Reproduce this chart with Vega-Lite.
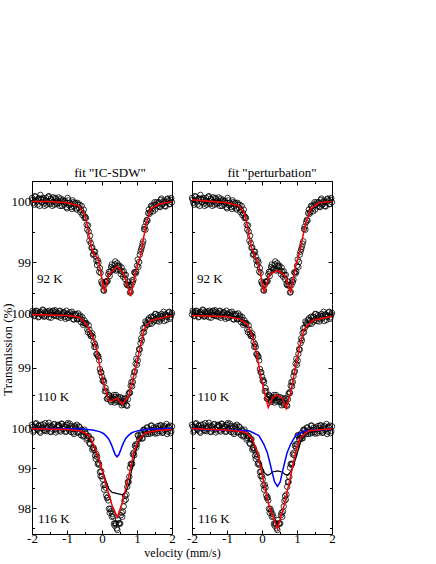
{
"$schema":"https://vega.github.io/schema/vega-lite/v6.json",
"padding":{"top":166,"left":0,"right":5,"bottom":2},
"config":{"view":{"stroke":null},"font":"Liberation Serif",
 "axis":{"labelFont":"Liberation Serif","labelFontSize":13,"labelColor":"black","titleFont":"Liberation Serif","titleFontSize":13,"titleFontWeight":"normal","titleColor":"black","domainColor":"black","domainWidth":1,"tickColor":"black","tickWidth":1,"grid":false,"labelFlush":false,"labelOverlap":false},
 "title":{"font":"Liberation Serif","fontSize":13,"fontWeight":"normal","color":"black"}},
"datasets":{
"s92":[{"v":-2,"t":100.05},{"v":-1.96,"t":99.97},{"v":-1.92,"t":100.08},{"v":-1.88,"t":100.01},{"v":-1.84,"t":99.94},{"v":-1.8,"t":100.04},{"v":-1.76,"t":100.1},{"v":-1.72,"t":99.98},{"v":-1.68,"t":100.02},{"v":-1.64,"t":99.92},{"v":-1.6,"t":100.05},{"v":-1.56,"t":99.99},{"v":-1.52,"t":100.08},{"v":-1.48,"t":99.95},{"v":-1.44,"t":100.01},{"v":-1.4,"t":100.06},{"v":-1.36,"t":99.94},{"v":-1.32,"t":100.03},{"v":-1.28,"t":99.97},{"v":-1.24,"t":100.06},{"v":-1.2,"t":99.92},{"v":-1.16,"t":100},{"v":-1.12,"t":100.02},{"v":-1.08,"t":99.94},{"v":-1.04,"t":99.97},{"v":-1,"t":99.88},{"v":-0.96,"t":100.01},{"v":-0.92,"t":99.97},{"v":-0.88,"t":99.9},{"v":-0.84,"t":100.01},{"v":-0.8,"t":99.91},{"v":-0.76,"t":99.97},{"v":-0.72,"t":99.86},{"v":-0.68,"t":99.94},{"v":-0.64,"t":99.94},{"v":-0.6,"t":99.85},{"v":-0.56,"t":99.77},{"v":-0.52,"t":99.86},{"v":-0.48,"t":99.74},{"v":-0.44,"t":99.61},{"v":-0.4,"t":99.6},{"v":-0.36,"t":99.35},{"v":-0.32,"t":99.31},{"v":-0.28,"t":99.24},{"v":-0.24,"t":99.13},{"v":-0.2,"t":99.17},{"v":-0.16,"t":99.02},{"v":-0.12,"t":99.03},{"v":-0.08,"t":98.84},{"v":-0.04,"t":98.82},{"v":0,"t":98.65},{"v":0.04,"t":98.54},{"v":0.08,"t":98.63},{"v":0.12,"t":98.67},{"v":0.16,"t":98.69},{"v":0.2,"t":98.84},{"v":0.24,"t":98.84},{"v":0.28,"t":98.96},{"v":0.32,"t":98.87},{"v":0.36,"t":98.96},{"v":0.4,"t":98.86},{"v":0.44,"t":98.98},{"v":0.48,"t":98.92},{"v":0.52,"t":98.86},{"v":0.56,"t":98.91},{"v":0.6,"t":98.76},{"v":0.64,"t":98.79},{"v":0.68,"t":98.79},{"v":0.72,"t":98.62},{"v":0.76,"t":98.62},{"v":0.8,"t":98.5},{"v":0.84,"t":98.62},{"v":0.88,"t":98.67},{"v":0.92,"t":98.83},{"v":0.96,"t":98.81},{"v":1,"t":98.94},{"v":1.04,"t":98.92},{"v":1.08,"t":99.12},{"v":1.12,"t":99.21},{"v":1.16,"t":99.3},{"v":1.2,"t":99.54},{"v":1.24,"t":99.53},{"v":1.28,"t":99.69},{"v":1.32,"t":99.8},{"v":1.36,"t":99.79},{"v":1.4,"t":99.92},{"v":1.44,"t":99.88},{"v":1.48,"t":99.94},{"v":1.52,"t":99.86},{"v":1.56,"t":99.98},{"v":1.6,"t":99.96},{"v":1.64,"t":99.91},{"v":1.68,"t":100.02},{"v":1.72,"t":99.94},{"v":1.76,"t":100},{"v":1.8,"t":99.92},{"v":1.84,"t":99.98},{"v":1.88,"t":100.04},{"v":1.92,"t":99.95},{"v":1.96,"t":100.02},{"v":2,"t":99.98},
{"v":-1.98,"t":100.02},{"v":-1.94,"t":99.94},{"v":-1.9,"t":100.07},{"v":-1.86,"t":99.99},{"v":-1.82,"t":100.04},{"v":-1.78,"t":99.92},{"v":-1.74,"t":100.03},{"v":-1.7,"t":100.05},{"v":-1.66,"t":99.96},{"v":-1.62,"t":100},{"v":-1.58,"t":99.94},{"v":-1.54,"t":100.07},{"v":-1.5,"t":99.97},{"v":-1.46,"t":100.04},{"v":-1.42,"t":99.92},{"v":-1.38,"t":99.99},{"v":-1.34,"t":100.05},{"v":-1.3,"t":99.95},{"v":-1.26,"t":100.01},{"v":-1.22,"t":99.97},{"v":-1.18,"t":100.04},{"v":-1.14,"t":99.92},{"v":-1.1,"t":99.99},{"v":-1.06,"t":100},{"v":-1.02,"t":99.9},{"v":-0.98,"t":100.05},{"v":-0.94,"t":99.93},{"v":-0.9,"t":99.95},{"v":-0.86,"t":99.87},{"v":-0.82,"t":99.98},{"v":-0.78,"t":99.96},{"v":-0.74,"t":99.88},{"v":-0.7,"t":99.97},{"v":-0.66,"t":99.89},{"v":-0.62,"t":99.82},{"v":-0.58,"t":99.92},{"v":-0.54,"t":99.8},{"v":-0.5,"t":99.72},{"v":-0.46,"t":99.72},{"v":-0.42,"t":99.53},{"v":-0.38,"t":99.5},{"v":-0.34,"t":99.43},{"v":-0.3,"t":99.23},{"v":-0.26,"t":99.12},{"v":-0.22,"t":99.17},{"v":-0.18,"t":99.09},{"v":-0.14,"t":98.95},{"v":-0.1,"t":98.99},{"v":-0.06,"t":98.9},{"v":-0.02,"t":98.68},{"v":0.02,"t":98.63},{"v":0.06,"t":98.53},{"v":0.1,"t":98.68},{"v":0.14,"t":98.68},{"v":0.18,"t":98.8},{"v":0.22,"t":98.77},{"v":0.26,"t":98.92},{"v":0.3,"t":98.9},{"v":0.34,"t":98.89},{"v":0.38,"t":99.01},{"v":0.42,"t":98.88},{"v":0.46,"t":98.94},{"v":0.5,"t":98.94},{"v":0.54,"t":98.8},{"v":0.58,"t":98.84},{"v":0.62,"t":98.85},{"v":0.66,"t":98.72},{"v":0.7,"t":98.64},{"v":0.74,"t":98.68},{"v":0.78,"t":98.61},{"v":0.82,"t":98.51},{"v":0.86,"t":98.7},{"v":0.9,"t":98.71},{"v":0.94,"t":98.83},{"v":0.98,"t":98.84},{"v":1.02,"t":99.04},{"v":1.06,"t":99},{"v":1.1,"t":99.17},{"v":1.14,"t":99.25},{"v":1.18,"t":99.34},{"v":1.22,"t":99.58},{"v":1.26,"t":99.65},{"v":1.3,"t":99.68},{"v":1.34,"t":99.86},{"v":1.38,"t":99.82},{"v":1.42,"t":99.91},{"v":1.46,"t":99.83},{"v":1.5,"t":99.98},{"v":1.54,"t":99.94},{"v":1.58,"t":99.91},{"v":1.62,"t":99.98},{"v":1.66,"t":99.9},{"v":1.7,"t":100.04},{"v":1.74,"t":99.95},{"v":1.78,"t":99.99},{"v":1.82,"t":99.91},{"v":1.86,"t":100.03},{"v":1.9,"t":100.01},{"v":1.94,"t":99.95},{"v":1.98,"t":100.05}],
"s110":[{"v":-2,"t":99.99},{"v":-1.96,"t":100.03},{"v":-1.92,"t":99.97},{"v":-1.88,"t":100.06},{"v":-1.84,"t":100.01},{"v":-1.8,"t":99.95},{"v":-1.76,"t":100.04},{"v":-1.72,"t":99.98},{"v":-1.68,"t":100.07},{"v":-1.64,"t":99.96},{"v":-1.6,"t":100.02},{"v":-1.56,"t":100.05},{"v":-1.52,"t":99.94},{"v":-1.48,"t":100.03},{"v":-1.44,"t":99.99},{"v":-1.4,"t":100.06},{"v":-1.36,"t":99.97},{"v":-1.32,"t":100.04},{"v":-1.28,"t":100.01},{"v":-1.24,"t":99.95},{"v":-1.2,"t":100.06},{"v":-1.16,"t":99.97},{"v":-1.12,"t":100.02},{"v":-1.08,"t":100.03},{"v":-1.04,"t":99.91},{"v":-1,"t":100},{"v":-0.96,"t":99.93},{"v":-0.92,"t":100.03},{"v":-0.88,"t":99.97},{"v":-0.84,"t":100},{"v":-0.8,"t":99.9},{"v":-0.76,"t":99.97},{"v":-0.72,"t":99.91},{"v":-0.68,"t":100.01},{"v":-0.64,"t":99.95},{"v":-0.6,"t":99.85},{"v":-0.56,"t":99.94},{"v":-0.52,"t":99.83},{"v":-0.48,"t":99.83},{"v":-0.44,"t":99.83},{"v":-0.4,"t":99.66},{"v":-0.36,"t":99.71},{"v":-0.32,"t":99.59},{"v":-0.28,"t":99.64},{"v":-0.24,"t":99.48},{"v":-0.2,"t":99.44},{"v":-0.16,"t":99.26},{"v":-0.12,"t":99.22},{"v":-0.08,"t":99.14},{"v":-0.04,"t":98.92},{"v":0,"t":98.84},{"v":0.04,"t":98.78},{"v":0.08,"t":98.57},{"v":0.12,"t":98.57},{"v":0.16,"t":98.43},{"v":0.2,"t":98.5},{"v":0.24,"t":98.4},{"v":0.28,"t":98.46},{"v":0.32,"t":98.43},{"v":0.36,"t":98.36},{"v":0.4,"t":98.5},{"v":0.44,"t":98.4},{"v":0.48,"t":98.43},{"v":0.52,"t":98.46},{"v":0.56,"t":98.31},{"v":0.6,"t":98.35},{"v":0.64,"t":98.43},{"v":0.68,"t":98.44},{"v":0.72,"t":98.3},{"v":0.76,"t":98.52},{"v":0.8,"t":98.54},{"v":0.84,"t":98.74},{"v":0.88,"t":98.74},{"v":0.92,"t":98.92},{"v":0.96,"t":99.08},{"v":1,"t":99.06},{"v":1.04,"t":99.26},{"v":1.08,"t":99.34},{"v":1.12,"t":99.55},{"v":1.16,"t":99.65},{"v":1.2,"t":99.66},{"v":1.24,"t":99.86},{"v":1.28,"t":99.81},{"v":1.32,"t":99.89},{"v":1.36,"t":99.82},{"v":1.4,"t":99.95},{"v":1.44,"t":99.92},{"v":1.48,"t":99.86},{"v":1.52,"t":100},{"v":1.56,"t":99.92},{"v":1.6,"t":99.98},{"v":1.64,"t":99.86},{"v":1.68,"t":99.96},{"v":1.72,"t":99.92},{"v":1.76,"t":100.04},{"v":1.8,"t":99.99},{"v":1.84,"t":99.89},{"v":1.88,"t":99.97},{"v":1.92,"t":100.04},{"v":1.96,"t":99.94},{"v":2,"t":100.02},
{"v":-1.98,"t":100.06},{"v":-1.94,"t":99.96},{"v":-1.9,"t":100.03},{"v":-1.86,"t":100.05},{"v":-1.82,"t":99.94},{"v":-1.78,"t":100.02},{"v":-1.74,"t":99.99},{"v":-1.7,"t":100.08},{"v":-1.66,"t":99.95},{"v":-1.62,"t":100.04},{"v":-1.58,"t":99.97},{"v":-1.54,"t":100.01},{"v":-1.5,"t":100.06},{"v":-1.46,"t":99.93},{"v":-1.42,"t":100.03},{"v":-1.38,"t":99.98},{"v":-1.34,"t":100.07},{"v":-1.3,"t":99.96},{"v":-1.26,"t":100.02},{"v":-1.22,"t":100.05},{"v":-1.18,"t":99.93},{"v":-1.14,"t":99.99},{"v":-1.1,"t":100.03},{"v":-1.06,"t":99.95},{"v":-1.02,"t":100.06},{"v":-0.98,"t":99.93},{"v":-0.94,"t":99.99},{"v":-0.9,"t":99.96},{"v":-0.86,"t":100.04},{"v":-0.82,"t":99.9},{"v":-0.78,"t":99.99},{"v":-0.74,"t":100},{"v":-0.7,"t":99.9},{"v":-0.66,"t":99.91},{"v":-0.62,"t":99.97},{"v":-0.58,"t":99.9},{"v":-0.54,"t":99.8},{"v":-0.5,"t":99.88},{"v":-0.46,"t":99.82},{"v":-0.42,"t":99.71},{"v":-0.38,"t":99.79},{"v":-0.34,"t":99.63},{"v":-0.3,"t":99.6},{"v":-0.26,"t":99.58},{"v":-0.22,"t":99.39},{"v":-0.18,"t":99.39},{"v":-0.14,"t":99.25},{"v":-0.1,"t":99.21},{"v":-0.06,"t":98.98},{"v":-0.02,"t":98.92},{"v":0.02,"t":98.76},{"v":0.06,"t":98.74},{"v":0.1,"t":98.63},{"v":0.14,"t":98.43},{"v":0.18,"t":98.46},{"v":0.22,"t":98.48},{"v":0.26,"t":98.37},{"v":0.3,"t":98.4},{"v":0.34,"t":98.5},{"v":0.38,"t":98.46},{"v":0.42,"t":98.38},{"v":0.46,"t":98.46},{"v":0.5,"t":98.37},{"v":0.54,"t":98.37},{"v":0.58,"t":98.44},{"v":0.62,"t":98.32},{"v":0.66,"t":98.39},{"v":0.7,"t":98.31},{"v":0.74,"t":98.42},{"v":0.78,"t":98.55},{"v":0.82,"t":98.67},{"v":0.86,"t":98.66},{"v":0.9,"t":98.85},{"v":0.94,"t":98.94},{"v":0.98,"t":99.17},{"v":1.02,"t":99.14},{"v":1.06,"t":99.35},{"v":1.1,"t":99.46},{"v":1.14,"t":99.51},{"v":1.18,"t":99.74},{"v":1.22,"t":99.74},{"v":1.26,"t":99.83},{"v":1.3,"t":99.8},{"v":1.34,"t":99.92},{"v":1.38,"t":99.88},{"v":1.42,"t":99.82},{"v":1.46,"t":99.95},{"v":1.5,"t":99.89},{"v":1.54,"t":100},{"v":1.58,"t":99.87},{"v":1.62,"t":99.94},{"v":1.66,"t":99.9},{"v":1.7,"t":100},{"v":1.74,"t":99.97},{"v":1.78,"t":99.87},{"v":1.82,"t":99.99},{"v":1.86,"t":99.95},{"v":1.9,"t":100.03},{"v":1.94,"t":99.91},{"v":1.98,"t":99.99}],
"s116":[{"v":-2,"t":100.08},{"v":-1.96,"t":99.9},{"v":-1.92,"t":100.03},{"v":-1.88,"t":100.12},{"v":-1.84,"t":99.95},{"v":-1.8,"t":100.06},{"v":-1.76,"t":99.88},{"v":-1.72,"t":100.01},{"v":-1.68,"t":100.09},{"v":-1.64,"t":99.93},{"v":-1.6,"t":100.04},{"v":-1.56,"t":99.98},{"v":-1.52,"t":100.13},{"v":-1.48,"t":99.91},{"v":-1.44,"t":100.05},{"v":-1.4,"t":99.96},{"v":-1.36,"t":100.1},{"v":-1.32,"t":99.89},{"v":-1.28,"t":100.02},{"v":-1.24,"t":100.07},{"v":-1.2,"t":99.94},{"v":-1.16,"t":100.11},{"v":-1.12,"t":99.97},{"v":-1.08,"t":100.05},{"v":-1.04,"t":99.9},{"v":-1,"t":100.08},{"v":-0.96,"t":99.98},{"v":-0.92,"t":100.11},{"v":-0.88,"t":99.9},{"v":-0.84,"t":100.02},{"v":-0.8,"t":99.85},{"v":-0.76,"t":100.02},{"v":-0.72,"t":100.08},{"v":-0.68,"t":99.89},{"v":-0.64,"t":100.02},{"v":-0.6,"t":99.82},{"v":-0.56,"t":99.93},{"v":-0.52,"t":99.81},{"v":-0.48,"t":99.9},{"v":-0.44,"t":99.71},{"v":-0.4,"t":99.79},{"v":-0.36,"t":99.63},{"v":-0.32,"t":99.71},{"v":-0.28,"t":99.46},{"v":-0.24,"t":99.51},{"v":-0.2,"t":99.31},{"v":-0.16,"t":99.35},{"v":-0.12,"t":99.1},{"v":-0.08,"t":99.08},{"v":-0.04,"t":98.8},{"v":0,"t":98.79},{"v":0.04,"t":98.57},{"v":0.08,"t":98.58},{"v":0.12,"t":98.32},{"v":0.16,"t":98.27},{"v":0.2,"t":97.98},{"v":0.24,"t":97.98},{"v":0.28,"t":97.78},{"v":0.32,"t":97.79},{"v":0.36,"t":97.56},{"v":0.4,"t":97.61},{"v":0.44,"t":97.45},{"v":0.48,"t":97.62},{"v":0.52,"t":97.61},{"v":0.56,"t":97.88},{"v":0.6,"t":97.91},{"v":0.64,"t":98.18},{"v":0.68,"t":98.21},{"v":0.72,"t":98.53},{"v":0.76,"t":98.65},{"v":0.8,"t":99.01},{"v":0.84,"t":99.08},{"v":0.88,"t":99.34},{"v":0.92,"t":99.32},{"v":0.96,"t":99.59},{"v":1,"t":99.59},{"v":1.04,"t":99.81},{"v":1.08,"t":99.75},{"v":1.12,"t":99.87},{"v":1.16,"t":99.74},{"v":1.2,"t":99.96},{"v":1.24,"t":99.89},{"v":1.28,"t":100.01},{"v":1.32,"t":99.85},{"v":1.36,"t":99.96},{"v":1.4,"t":100.06},{"v":1.44,"t":99.89},{"v":1.48,"t":100.01},{"v":1.52,"t":99.86},{"v":1.56,"t":99.97},{"v":1.6,"t":100.05},{"v":1.64,"t":99.92},{"v":1.68,"t":100.07},{"v":1.72,"t":99.88},{"v":1.76,"t":100.02},{"v":1.8,"t":99.95},{"v":1.84,"t":100.1},{"v":1.88,"t":99.91},{"v":1.92,"t":100.01},{"v":1.96,"t":99.87},{"v":2,"t":100.04},
{"v":-1.98,"t":100.03},{"v":-1.94,"t":99.94},{"v":-1.9,"t":100.1},{"v":-1.86,"t":99.98},{"v":-1.82,"t":100.05},{"v":-1.78,"t":99.91},{"v":-1.74,"t":100.08},{"v":-1.7,"t":100},{"v":-1.66,"t":99.95},{"v":-1.62,"t":100.12},{"v":-1.58,"t":99.92},{"v":-1.54,"t":100.03},{"v":-1.5,"t":100.06},{"v":-1.46,"t":99.9},{"v":-1.42,"t":100.02},{"v":-1.38,"t":100.09},{"v":-1.34,"t":99.97},{"v":-1.3,"t":99.94},{"v":-1.26,"t":100.08},{"v":-1.22,"t":100.05},{"v":-1.18,"t":99.91},{"v":-1.14,"t":100.1},{"v":-1.1,"t":99.98},{"v":-1.06,"t":100.03},{"v":-1.02,"t":99.92},{"v":-0.98,"t":100.12},{"v":-0.94,"t":99.94},{"v":-0.9,"t":100.05},{"v":-0.86,"t":99.98},{"v":-0.82,"t":99.89},{"v":-0.78,"t":100.05},{"v":-0.74,"t":99.99},{"v":-0.7,"t":99.89},{"v":-0.66,"t":100.04},{"v":-0.62,"t":99.89},{"v":-0.58,"t":99.96},{"v":-0.54,"t":99.79},{"v":-0.5,"t":99.96},{"v":-0.46,"t":99.86},{"v":-0.42,"t":99.75},{"v":-0.38,"t":99.8},{"v":-0.34,"t":99.6},{"v":-0.3,"t":99.72},{"v":-0.26,"t":99.5},{"v":-0.22,"t":99.45},{"v":-0.18,"t":99.23},{"v":-0.14,"t":99.28},{"v":-0.1,"t":99.13},{"v":-0.06,"t":98.9},{"v":-0.02,"t":98.92},{"v":0.02,"t":98.72},{"v":0.06,"t":98.46},{"v":0.1,"t":98.51},{"v":0.14,"t":98.25},{"v":0.18,"t":98.19},{"v":0.22,"t":97.88},{"v":0.26,"t":97.92},{"v":0.3,"t":97.85},{"v":0.34,"t":97.61},{"v":0.38,"t":97.62},{"v":0.42,"t":97.49},{"v":0.46,"t":97.7},{"v":0.5,"t":97.61},{"v":0.54,"t":97.82},{"v":0.58,"t":97.78},{"v":0.62,"t":98.04},{"v":0.66,"t":98.3},{"v":0.7,"t":98.34},{"v":0.74,"t":98.65},{"v":0.78,"t":98.78},{"v":0.82,"t":99.1},{"v":0.86,"t":99.11},{"v":0.9,"t":99.38},{"v":0.94,"t":99.55},{"v":0.98,"t":99.51},{"v":1.02,"t":99.82},{"v":1.06,"t":99.72},{"v":1.1,"t":99.82},{"v":1.14,"t":99.74},{"v":1.18,"t":99.95},{"v":1.22,"t":99.94},{"v":1.26,"t":99.85},{"v":1.3,"t":100.01},{"v":1.34,"t":99.91},{"v":1.38,"t":99.86},{"v":1.42,"t":100.06},{"v":1.46,"t":99.95},{"v":1.5,"t":99.9},{"v":1.54,"t":100.01},{"v":1.58,"t":99.87},{"v":1.62,"t":99.99},{"v":1.66,"t":100.06},{"v":1.7,"t":99.93},{"v":1.74,"t":99.89},{"v":1.78,"t":100.05},{"v":1.82,"t":99.99},{"v":1.86,"t":99.85},{"v":1.9,"t":100.03},{"v":1.94,"t":100.06},{"v":1.98,"t":99.92}],
"f92L":[{"v":-2,"t":99.99},{"v":-1.5,"t":99.99},{"v":-1,"t":99.97},{"v":-0.66,"t":99.92},{"v":-0.56,"t":99.84},{"v":-0.49,"t":99.76},{"v":-0.42,"t":99.6},{"v":-0.32,"t":99.27},{"v":-0.23,"t":99.13},{"v":-0.11,"t":99.06},{"v":0.07,"t":98.51},{"v":0.2,"t":98.8},{"v":0.44,"t":98.93},{"v":0.63,"t":98.8},{"v":0.82,"t":98.44},{"v":0.96,"t":98.83},{"v":1.1,"t":99.1},{"v":1.25,"t":99.6},{"v":1.39,"t":99.87},{"v":1.63,"t":99.95},{"v":2,"t":99.99}],
"f92R":[{"v":-2,"t":100.02},{"v":-1,"t":99.97},{"v":-0.66,"t":99.92},{"v":-0.51,"t":99.81},{"v":-0.42,"t":99.6},{"v":-0.32,"t":99.27},{"v":-0.2,"t":99.1},{"v":-0.09,"t":98.94},{"v":0.06,"t":98.5},{"v":0.22,"t":98.8},{"v":0.44,"t":98.86},{"v":0.66,"t":98.78},{"v":0.82,"t":98.49},{"v":0.96,"t":98.94},{"v":1.08,"t":99.16},{"v":1.23,"t":99.6},{"v":1.39,"t":99.87},{"v":1.63,"t":99.97},{"v":2,"t":99.99}],
"f110L":[{"v":-2,"t":99.99},{"v":-1,"t":99.97},{"v":-0.66,"t":99.94},{"v":-0.45,"t":99.81},{"v":-0.28,"t":99.6},{"v":-0.13,"t":99.29},{"v":-0.04,"t":98.95},{"v":0.09,"t":98.61},{"v":0.2,"t":98.4},{"v":0.3,"t":98.4},{"v":0.44,"t":98.44},{"v":0.58,"t":98.33},{"v":0.77,"t":98.49},{"v":0.91,"t":98.86},{"v":1.06,"t":99.29},{"v":1.2,"t":99.72},{"v":1.39,"t":99.88},{"v":2,"t":99.97}],
"f110R":[{"v":-2,"t":99.97},{"v":-1,"t":99.95},{"v":-0.66,"t":99.91},{"v":-0.42,"t":99.81},{"v":-0.28,"t":99.6},{"v":-0.16,"t":99.29},{"v":-0.04,"t":98.86},{"v":0.09,"t":98.49},{"v":0.18,"t":98.27},{"v":0.31,"t":98.46},{"v":0.44,"t":98.5},{"v":0.58,"t":98.44},{"v":0.69,"t":98.25},{"v":0.82,"t":98.55},{"v":0.91,"t":98.86},{"v":1.06,"t":99.35},{"v":1.2,"t":99.72},{"v":1.44,"t":99.88},{"v":2,"t":99.96}],
"f116L":[{"v":-2,"t":99.98},{"v":-1,"t":99.96},{"v":-0.66,"t":99.93},{"v":-0.5,"t":99.88},{"v":-0.37,"t":99.81},{"v":-0.23,"t":99.56},{"v":-0.09,"t":99.23},{"v":0.1,"t":98.64},{"v":0.29,"t":98.06},{"v":0.44,"t":97.77},{"v":0.58,"t":98.14},{"v":0.77,"t":98.81},{"v":0.91,"t":99.39},{"v":1.06,"t":99.73},{"v":1.25,"t":99.88},{"v":1.6,"t":99.94},{"v":2,"t":99.96}],
"k116L":[{"v":-2,"t":99.98},{"v":-1,"t":99.96},{"v":-0.66,"t":99.92},{"v":-0.5,"t":99.87},{"v":-0.37,"t":99.79},{"v":-0.23,"t":99.54},{"v":-0.09,"t":99.2},{"v":0.06,"t":98.8},{"v":0.2,"t":98.47},{"v":0.29,"t":98.39},{"v":0.44,"t":98.36},{"v":0.58,"t":98.33},{"v":0.68,"t":98.4},{"v":0.77,"t":98.6},{"v":0.86,"t":99},{"v":0.96,"t":99.4},{"v":1.06,"t":99.7},{"v":1.25,"t":99.87},{"v":1.6,"t":99.94},{"v":2,"t":99.96}],
"b116L":[{"v":-2,"t":99.99},{"v":-1,"t":99.98},{"v":-0.57,"t":99.975},{"v":-0.27,"t":99.95},{"v":-0.07,"t":99.91},{"v":0.03,"t":99.87},{"v":0.13,"t":99.79},{"v":0.18,"t":99.74},{"v":0.23,"t":99.66},{"v":0.28,"t":99.56},{"v":0.33,"t":99.44},{"v":0.38,"t":99.33},{"v":0.43,"t":99.28},{"v":0.48,"t":99.33},{"v":0.53,"t":99.44},{"v":0.58,"t":99.56},{"v":0.63,"t":99.66},{"v":0.68,"t":99.74},{"v":0.73,"t":99.79},{"v":0.83,"t":99.87},{"v":0.93,"t":99.91},{"v":1.13,"t":99.95},{"v":1.43,"t":99.975},{"v":2,"t":99.99}],
"f116R":[{"v":-2,"t":99.98},{"v":-1,"t":99.95},{"v":-0.66,"t":99.92},{"v":-0.47,"t":99.89},{"v":-0.28,"t":99.73},{"v":-0.13,"t":99.39},{"v":0.01,"t":98.81},{"v":0.2,"t":98.06},{"v":0.44,"t":97.48},{"v":0.63,"t":98.06},{"v":0.82,"t":98.81},{"v":0.96,"t":99.39},{"v":1.1,"t":99.77},{"v":1.34,"t":99.93},{"v":2,"t":99.98}],
"k116R":[{"v":-2,"t":99.98},{"v":-1,"t":99.95},{"v":-0.66,"t":99.91},{"v":-0.47,"t":99.87},{"v":-0.3,"t":99.72},{"v":-0.2,"t":99.5},{"v":-0.09,"t":99.23},{"v":0.06,"t":98.89},{"v":0.15,"t":98.82},{"v":0.22,"t":98.84},{"v":0.3,"t":98.9},{"v":0.44,"t":98.93},{"v":0.58,"t":98.9},{"v":0.66,"t":98.84},{"v":0.74,"t":98.82},{"v":0.85,"t":98.95},{"v":0.96,"t":99.23},{"v":1.1,"t":99.64},{"v":1.3,"t":99.9},{"v":2,"t":99.98}],
"b116R":[{"v":-2,"t":99.97},{"v":-1,"t":99.95},{"v":-0.37,"t":99.93},{"v":-0.09,"t":99.81},{"v":0.05,"t":99.6},{"v":0.15,"t":99.39},{"v":0.22,"t":99.15},{"v":0.29,"t":98.89},{"v":0.36,"t":98.65},{"v":0.44,"t":98.54},{"v":0.52,"t":98.65},{"v":0.58,"t":98.89},{"v":0.65,"t":99.15},{"v":0.72,"t":99.39},{"v":0.82,"t":99.6},{"v":0.96,"t":99.81},{"v":1.23,"t":99.93},{"v":2,"t":99.97}]
},
"columns":2,
"spacing":{"row":0,"column":20},
"bounds":"flush",
"align":"each",
"concat":[
 {"width":140,"height":123,
  "title":{"text":"fit \"IC-SDW\"","anchor":"middle","frame":"group","dx":8,"offset":1},
  "layer":[
    {"data":{"name":"s92"},"mark":{"type":"point","shape":"circle","filled":false,"stroke":"black","strokeWidth":0.8,"size":30,"opacity":1},
     "encoding":{"x":{"field":"v","type":"quantitative","scale":{"domain":[-2,2],"nice":false},"axis":{"orient":"top","values":[-2,-1.5,-1,-0.5,0,0.5,1,1.5,2],"labels":false,"tickSize":{"condition":{"test":"datum.value % 1 !== 0","value":-2.5},"value":-4},"title":null}},
      "y":{"field":"t","type":"quantitative","scale":{"domain":[98.312,100.328],"nice":false,"zero":false},"axis":{"orient":"left","values":[98.5,99,99.5,100],"labelExpr":"datum.value % 1 === 0 ? '' + datum.value : ''","labelOverlap":false,"tickSize":{"condition":{"test":"datum.value % 1 !== 0","value":-2.5},"value":-4},"labelPadding":5.5,"title":null}}}},
    {"data":{"name":"f92L"},"mark":{"type":"line","color":"#ff0000","strokeWidth":1.5},
     "encoding":{"x":{"field":"v","type":"quantitative","scale":{"domain":[-2,2],"nice":false},"axis":{"orient":"top","values":[-2,-1.5,-1,-0.5,0,0.5,1,1.5,2],"labels":false,"tickSize":{"condition":{"test":"datum.value % 1 !== 0","value":-2.5},"value":-4},"title":null}},
      "y":{"field":"t","type":"quantitative","scale":{"domain":[98.312,100.328],"nice":false,"zero":false},"axis":{"orient":"right","values":[98.5,99,99.5,100],"labels":false,"tickSize":{"condition":{"test":"datum.value % 1 !== 0","value":-2.5},"value":-4},"title":null}}}},
    {"data":{"values":[{"label":"92 K"}]},"mark":{"type":"text","align":"left","baseline":"middle","font":"Liberation Serif","fontSize":13,"color":"black"},
     "encoding":{"x":{"datum":-1.86,"type":"quantitative","scale":{"domain":[-2,2],"nice":false},"axis":{"orient":"top","values":[-2,-1.5,-1,-0.5,0,0.5,1,1.5,2],"labels":false,"tickSize":{"condition":{"test":"datum.value % 1 !== 0","value":-2.5},"value":-4},"title":null}},"y":{"datum":98.72,"type":"quantitative","scale":{"domain":[98.312,100.328],"nice":false,"zero":false},"axis":null},"text":{"field":"label","type":"nominal"}}}
  ],
  "resolve":{"scale":{"y":"independent"}}},
 {"width":140,"height":123,
  "title":{"text":"fit \"perturbation\"","anchor":"middle","frame":"group","dx":10,"offset":1},
  "layer":[
    {"data":{"name":"s92"},"mark":{"type":"point","shape":"circle","filled":false,"stroke":"black","strokeWidth":0.8,"size":30,"opacity":1},
     "encoding":{"x":{"field":"v","type":"quantitative","scale":{"domain":[-2,2],"nice":false},"axis":{"orient":"top","values":[-2,-1.5,-1,-0.5,0,0.5,1,1.5,2],"labels":false,"tickSize":{"condition":{"test":"datum.value % 1 !== 0","value":-2.5},"value":-4},"title":null}},
      "y":{"field":"t","type":"quantitative","scale":{"domain":[98.312,100.328],"nice":false,"zero":false},"axis":{"orient":"left","values":[98.5,99,99.5,100],"labels":false,"tickSize":{"condition":{"test":"datum.value % 1 !== 0","value":-2.5},"value":-4},"title":null}}}},
    {"data":{"name":"f92R"},"mark":{"type":"line","color":"#ff0000","strokeWidth":1.5},
     "encoding":{"x":{"field":"v","type":"quantitative","scale":{"domain":[-2,2],"nice":false},"axis":{"orient":"top","values":[-2,-1.5,-1,-0.5,0,0.5,1,1.5,2],"labels":false,"tickSize":{"condition":{"test":"datum.value % 1 !== 0","value":-2.5},"value":-4},"title":null}},
      "y":{"field":"t","type":"quantitative","scale":{"domain":[98.312,100.328],"nice":false,"zero":false},"axis":{"orient":"right","values":[98.5,99,99.5,100],"labels":false,"tickSize":{"condition":{"test":"datum.value % 1 !== 0","value":-2.5},"value":-4},"title":null}}}},
    {"data":{"values":[{"label":"92 K"}]},"mark":{"type":"text","align":"left","baseline":"middle","font":"Liberation Serif","fontSize":13,"color":"black"},
     "encoding":{"x":{"datum":-1.86,"type":"quantitative","scale":{"domain":[-2,2],"nice":false},"axis":{"orient":"top","values":[-2,-1.5,-1,-0.5,0,0.5,1,1.5,2],"labels":false,"tickSize":{"condition":{"test":"datum.value % 1 !== 0","value":-2.5},"value":-4},"title":null}},"y":{"datum":98.72,"type":"quantitative","scale":{"domain":[98.312,100.328],"nice":false,"zero":false},"axis":null},"text":{"field":"label","type":"nominal"}}}
  ],
  "resolve":{"scale":{"y":"independent"}}},
 {"width":140,"height":110,
  "layer":[
    {"data":{"name":"s110"},"mark":{"type":"point","shape":"circle","filled":false,"stroke":"black","strokeWidth":0.8,"size":30,"opacity":1},
     "encoding":{"x":{"field":"v","type":"quantitative","scale":{"domain":[-2,2],"nice":false},"axis":null},
      "y":{"field":"t","type":"quantitative","scale":{"domain":[98.148,100.185],"nice":false,"zero":false},"axis":{"orient":"left","values":[98.5,99,99.5,100],"labelExpr":"datum.value % 1 === 0 ? '' + datum.value : ''","labelOverlap":false,"tickSize":{"condition":{"test":"datum.value % 1 !== 0","value":-2.5},"value":-4},"labelPadding":5.5,"title":"Transmission (%)","titleY":45,"titlePadding":-3}}}},
    {"data":{"name":"f110L"},"mark":{"type":"line","color":"#ff0000","strokeWidth":1.5},
     "encoding":{"x":{"field":"v","type":"quantitative","scale":{"domain":[-2,2],"nice":false},"axis":null},
      "y":{"field":"t","type":"quantitative","scale":{"domain":[98.148,100.185],"nice":false,"zero":false},"axis":{"orient":"right","values":[98.5,99,99.5,100],"labels":false,"tickSize":{"condition":{"test":"datum.value % 1 !== 0","value":-2.5},"value":-4},"title":null}}}},
    {"data":{"values":[{"label":"110 K"}]},"mark":{"type":"text","align":"left","baseline":"middle","font":"Liberation Serif","fontSize":13,"color":"black"},
     "encoding":{"x":{"datum":-1.84,"type":"quantitative","scale":{"domain":[-2,2],"nice":false},"axis":null},"y":{"datum":98.46,"type":"quantitative","scale":{"domain":[98.148,100.185],"nice":false,"zero":false},"axis":null},"text":{"field":"label","type":"nominal"}}}
  ],
  "resolve":{"scale":{"y":"independent"}}},
 {"width":140,"height":110,
  "layer":[
    {"data":{"name":"s110"},"mark":{"type":"point","shape":"circle","filled":false,"stroke":"black","strokeWidth":0.8,"size":30,"opacity":1},
     "encoding":{"x":{"field":"v","type":"quantitative","scale":{"domain":[-2,2],"nice":false},"axis":null},
      "y":{"field":"t","type":"quantitative","scale":{"domain":[98.148,100.185],"nice":false,"zero":false},"axis":{"orient":"left","values":[98.5,99,99.5,100],"labels":false,"tickSize":{"condition":{"test":"datum.value % 1 !== 0","value":-2.5},"value":-4},"title":null}}}},
    {"data":{"name":"f110R"},"mark":{"type":"line","color":"#ff0000","strokeWidth":1.5},
     "encoding":{"x":{"field":"v","type":"quantitative","scale":{"domain":[-2,2],"nice":false},"axis":null},
      "y":{"field":"t","type":"quantitative","scale":{"domain":[98.148,100.185],"nice":false,"zero":false},"axis":{"orient":"right","values":[98.5,99,99.5,100],"labels":false,"tickSize":{"condition":{"test":"datum.value % 1 !== 0","value":-2.5},"value":-4},"title":null}}}},
    {"data":{"values":[{"label":"110 K"}]},"mark":{"type":"text","align":"left","baseline":"middle","font":"Liberation Serif","fontSize":13,"color":"black"},
     "encoding":{"x":{"datum":-1.84,"type":"quantitative","scale":{"domain":[-2,2],"nice":false},"axis":null},"y":{"datum":98.46,"type":"quantitative","scale":{"domain":[98.148,100.185],"nice":false,"zero":false},"axis":null},"text":{"field":"label","type":"nominal"}}}
  ],
  "resolve":{"scale":{"y":"independent"}}},
 {"width":140,"height":120,
  "layer":[
    {"data":{"name":"s116"},"mark":{"type":"point","shape":"circle","filled":false,"stroke":"black","strokeWidth":0.8,"size":30,"opacity":1},
     "encoding":{"x":{"field":"v","type":"quantitative","scale":{"domain":[-2,2],"nice":false},"axis":{"orient":"bottom","values":[-2,-1.5,-1,-0.5,0,0.5,1,1.5,2],"labelExpr":"datum.value % 1 === 0 ? '' + datum.value : ''","labelOverlap":false,"tickSize":{"condition":{"test":"datum.value % 1 !== 0","value":-2.5},"value":-4},"labelPadding":2,"title":"velocity (mm/s)","titleX":150,"titleFontSize":12,"titlePadding":1}},
      "y":{"field":"t","type":"quantitative","scale":{"domain":[97.35,100.35],"nice":false,"zero":false},"axis":{"orient":"left","values":[97.5,98,98.5,99,99.5,100],"labelExpr":"datum.value % 1 === 0 ? '' + datum.value : ''","labelOverlap":false,"tickSize":{"condition":{"test":"datum.value % 1 !== 0","value":-2.5},"value":-4},"labelPadding":5.5,"title":null}}}},
    {"layer":[
     {"data":{"name":"k116L"},"mark":{"type":"line","color":"black","strokeWidth":1.2},
      "encoding":{"y":{"field":"t","type":"quantitative","scale":{"domain":[97.35,100.35],"nice":false,"zero":false},"axis":{"orient":"right","values":[97.5,98,98.5,99,99.5,100],"labels":false,"tickSize":{"condition":{"test":"datum.value % 1 !== 0","value":-2.5},"value":-4},"title":null}}}},
     {"data":{"name":"b116L"},"mark":{"type":"line","color":"#0000ff","strokeWidth":1.5},
      "encoding":{"y":{"field":"t","type":"quantitative"}}},
     {"data":{"name":"f116L"},"mark":{"type":"line","color":"#ff0000","strokeWidth":1.5},
      "encoding":{"y":{"field":"t","type":"quantitative"}}}
    ],
    "encoding":{"x":{"field":"v","type":"quantitative","scale":{"domain":[-2,2],"nice":false},"axis":{"orient":"bottom","values":[-2,-1.5,-1,-0.5,0,0.5,1,1.5,2],"labelExpr":"datum.value % 1 === 0 ? '' + datum.value : ''","labelOverlap":false,"tickSize":{"condition":{"test":"datum.value % 1 !== 0","value":-2.5},"value":-4},"labelPadding":2,"title":"velocity (mm/s)","titleX":150,"titleFontSize":12,"titlePadding":1}}}},
    {"data":{"values":[{"label":"116 K"}]},"mark":{"type":"text","align":"left","baseline":"middle","font":"Liberation Serif","fontSize":13,"color":"black"},
     "encoding":{"x":{"datum":-1.83,"type":"quantitative","scale":{"domain":[-2,2],"nice":false},"axis":{"orient":"bottom","values":[-2,-1.5,-1,-0.5,0,0.5,1,1.5,2],"labelExpr":"datum.value % 1 === 0 ? '' + datum.value : ''","labelOverlap":false,"tickSize":{"condition":{"test":"datum.value % 1 !== 0","value":-2.5},"value":-4},"labelPadding":2,"title":"velocity (mm/s)","titleX":150,"titleFontSize":12,"titlePadding":1}},"y":{"datum":97.72,"type":"quantitative","scale":{"domain":[97.35,100.35],"nice":false,"zero":false},"axis":null},"text":{"field":"label","type":"nominal"}}}
  ],
  "resolve":{"scale":{"y":"independent"}}},
 {"width":140,"height":120,
  "layer":[
    {"data":{"name":"s116"},"mark":{"type":"point","shape":"circle","filled":false,"stroke":"black","strokeWidth":0.8,"size":30,"opacity":1},
     "encoding":{"x":{"field":"v","type":"quantitative","scale":{"domain":[-2,2],"nice":false},"axis":{"orient":"bottom","values":[-2,-1.5,-1,-0.5,0,0.5,1,1.5,2],"labelExpr":"datum.value % 1 === 0 ? '' + datum.value : ''","labelOverlap":false,"tickSize":{"condition":{"test":"datum.value % 1 !== 0","value":-2.5},"value":-4},"labelPadding":2,"title":null}},
      "y":{"field":"t","type":"quantitative","scale":{"domain":[97.35,100.35],"nice":false,"zero":false},"axis":{"orient":"left","values":[97.5,98,98.5,99,99.5,100],"labels":false,"tickSize":{"condition":{"test":"datum.value % 1 !== 0","value":-2.5},"value":-4},"title":null}}}},
    {"layer":[
     {"data":{"name":"k116R"},"mark":{"type":"line","color":"black","strokeWidth":1.2},
      "encoding":{"y":{"field":"t","type":"quantitative","scale":{"domain":[97.35,100.35],"nice":false,"zero":false},"axis":{"orient":"right","values":[97.5,98,98.5,99,99.5,100],"labels":false,"tickSize":{"condition":{"test":"datum.value % 1 !== 0","value":-2.5},"value":-4},"title":null}}}},
     {"data":{"name":"b116R"},"mark":{"type":"line","color":"#0000ff","strokeWidth":1.5},
      "encoding":{"y":{"field":"t","type":"quantitative"}}},
     {"data":{"name":"f116R"},"mark":{"type":"line","color":"#ff0000","strokeWidth":1.5},
      "encoding":{"y":{"field":"t","type":"quantitative"}}}
    ],
    "encoding":{"x":{"field":"v","type":"quantitative","scale":{"domain":[-2,2],"nice":false},"axis":{"orient":"bottom","values":[-2,-1.5,-1,-0.5,0,0.5,1,1.5,2],"labelExpr":"datum.value % 1 === 0 ? '' + datum.value : ''","labelOverlap":false,"tickSize":{"condition":{"test":"datum.value % 1 !== 0","value":-2.5},"value":-4},"labelPadding":2,"title":null}}}},
    {"data":{"values":[{"label":"116 K"}]},"mark":{"type":"text","align":"left","baseline":"middle","font":"Liberation Serif","fontSize":13,"color":"black"},
     "encoding":{"x":{"datum":-1.83,"type":"quantitative","scale":{"domain":[-2,2],"nice":false},"axis":{"orient":"bottom","values":[-2,-1.5,-1,-0.5,0,0.5,1,1.5,2],"labelExpr":"datum.value % 1 === 0 ? '' + datum.value : ''","labelOverlap":false,"tickSize":{"condition":{"test":"datum.value % 1 !== 0","value":-2.5},"value":-4},"labelPadding":2,"title":null}},"y":{"datum":97.72,"type":"quantitative","scale":{"domain":[97.35,100.35],"nice":false,"zero":false},"axis":null},"text":{"field":"label","type":"nominal"}}}
  ],
  "resolve":{"scale":{"y":"independent"}}}
]
}
